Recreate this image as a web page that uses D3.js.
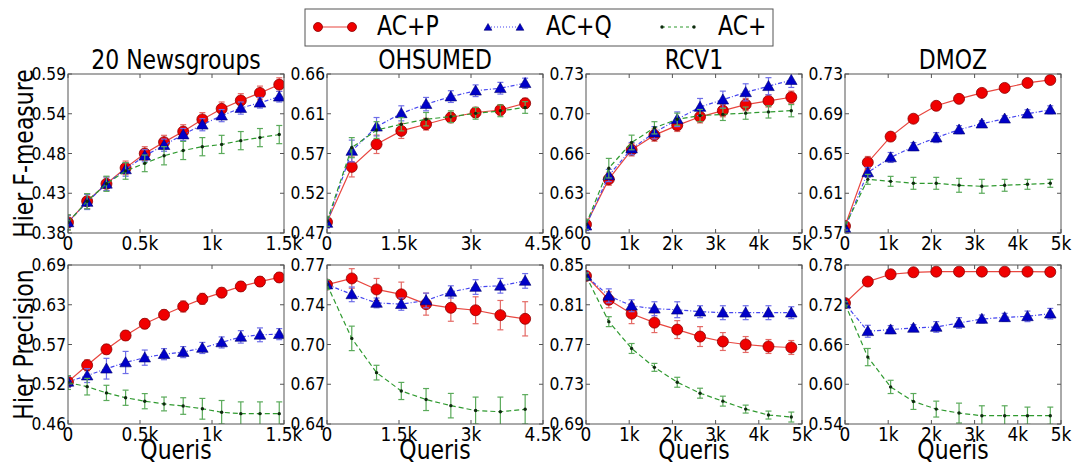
<!DOCTYPE html>
<html>
<head>
<meta charset="utf-8">
<script src="https://cdn.jsdelivr.net/npm/d3@7"></script>
<style>
  body { margin: 0; background: #fff; }
  text { font-family: "DejaVu Sans", sans-serif; fill: #000; }
</style>
</head>
<body>
<script>
const width = 1072;
const height = 466;

// series and panel names
const seriesNames = ["AC+P", "AC+Q", "AC+"];
const datasetNames = ["20 Newsgroups", "OHSUMED", "RCV1", "DMOZ"];
const rowLabels = ["Hier F-measure", "Hier Precision"];
const xLabel = "Queris";

// number of queries at each point
const queriesNews = [0, 133, 267, 400, 533, 667, 800, 933, 1067, 1200, 1333, 1467];
const queriesOhs = [0, 516, 1032, 1548, 2064, 2580, 3096, 3612, 4128];
const queriesRcv = [0, 528, 1056, 1584, 2112, 2640, 3168, 3696, 4224, 4752];
const queriesDmoz = [0, 528, 1056, 1584, 2112, 2640, 3168, 3696, 4224, 4752];

// x ticks
const xTicksNews = [0, 500, 1000, 1500];
const xLabelsNews = ["0", "0.5k", "1k", "1.5k"];
const xTicksOhs = [0, 1500, 3000, 4500];
const xLabelsOhs = ["0", "1.5k", "3k", "4.5k"];
const xTicksK = [0, 1000, 2000, 3000, 4000, 5000];
const xLabelsK = ["0", "1k", "2k", "3k", "4k", "5k"];

// y ticks (first and last are the axis limits)
const yTicksFNews = [0.38, 0.4325, 0.485, 0.5375, 0.59];
const yLabelsFNews = ["0.38", "0.43", "0.48", "0.54", "0.59"];
const yTicksFOhs = [0.47, 0.5175, 0.565, 0.6125, 0.66];
const yLabelsFOhs = ["0.47", "0.52", "0.57", "0.61", "0.66"];
const yTicksFRcv = [0.60, 0.6325, 0.665, 0.6975, 0.73];
const yLabelsFRcv = ["0.60", "0.63", "0.66", "0.70", "0.73"];
const yTicksFDmoz = [0.57, 0.61, 0.65, 0.69, 0.73];
const yLabelsFDmoz = ["0.57", "0.61", "0.65", "0.69", "0.73"];
const yTicksPNews = [0.46, 0.5175, 0.575, 0.6325, 0.69];
const yLabelsPNews = ["0.46", "0.52", "0.57", "0.63", "0.69"];
const yTicksPOhs = [0.64, 0.6725, 0.705, 0.7375, 0.77];
const yLabelsPOhs = ["0.64", "0.67", "0.70", "0.74", "0.77"];
const yTicksPRcv = [0.69, 0.73, 0.77, 0.81, 0.85];
const yLabelsPRcv = ["0.69", "0.73", "0.77", "0.81", "0.85"];
const yTicksPDmoz = [0.54, 0.60, 0.66, 0.72, 0.78];
const yLabelsPDmoz = ["0.54", "0.60", "0.66", "0.72", "0.78"];

// Hier F-measure
const fNewsP = [0.394, 0.422, 0.445, 0.466, 0.485, 0.500, 0.514, 0.530, 0.544, 0.555, 0.565, 0.576];
const fNewsQ = [0.394, 0.421, 0.445, 0.464, 0.482, 0.496, 0.510, 0.523, 0.535, 0.545, 0.552, 0.560];
const fNewsA = [0.394, 0.422, 0.445, 0.462, 0.472, 0.482, 0.489, 0.494, 0.497, 0.502, 0.506, 0.510];
const fNewsPe = [0.010, 0.010, 0.009, 0.009, 0.009, 0.009, 0.009, 0.009, 0.009, 0.009, 0.009, 0.009];
const fNewsQe = [0.009, 0.010, 0.009, 0.009, 0.008, 0.008, 0.008, 0.008, 0.008, 0.008, 0.007, 0.007];
const fNewsAe = [0.010, 0.010, 0.010, 0.011, 0.011, 0.012, 0.012, 0.012, 0.012, 0.012, 0.012, 0.012];

const fOhsP = [0.483, 0.549, 0.576, 0.592, 0.600, 0.608, 0.614, 0.617, 0.625];
const fOhsQ = [0.482, 0.568, 0.597, 0.613, 0.624, 0.633, 0.640, 0.643, 0.649];
const fOhsA = [0.484, 0.572, 0.593, 0.600, 0.606, 0.609, 0.613, 0.616, 0.620];
const fOhsPe = [0.006, 0.012, 0.011, 0.009, 0.007, 0.006, 0.006, 0.006, 0.006];
const fOhsQe = [0.006, 0.013, 0.011, 0.009, 0.008, 0.007, 0.007, 0.007, 0.006];
const fOhsAe = [0.006, 0.012, 0.010, 0.008, 0.008, 0.007, 0.007, 0.007, 0.007];

const fRcvP = [0.607, 0.644, 0.668, 0.680, 0.688, 0.695, 0.700, 0.705, 0.708, 0.711];
const fRcvQ = [0.606, 0.647, 0.669, 0.682, 0.693, 0.703, 0.709, 0.715, 0.720, 0.725];
const fRcvA = [0.607, 0.653, 0.674, 0.686, 0.693, 0.696, 0.697, 0.698, 0.699, 0.700];
const fRcvPe = [0.004, 0.005, 0.005, 0.005, 0.005, 0.005, 0.005, 0.005, 0.005, 0.005];
const fRcvQe = [0.004, 0.005, 0.005, 0.005, 0.006, 0.007, 0.007, 0.007, 0.007, 0.006];
const fRcvAe = [0.004, 0.008, 0.006, 0.005, 0.005, 0.005, 0.005, 0.005, 0.005, 0.005];

const fDmozP = [0.577, 0.641, 0.667, 0.685, 0.698, 0.705, 0.711, 0.716, 0.721, 0.724];
const fDmozQ = [0.575, 0.631, 0.646, 0.657, 0.666, 0.674, 0.680, 0.685, 0.690, 0.694];
const fDmozA = [0.577, 0.624, 0.622, 0.620, 0.620, 0.618, 0.617, 0.618, 0.619, 0.620];
const fDmozPe = [0.004, 0.006, 0.004, 0.003, 0.003, 0.003, 0.003, 0.003, 0.003, 0.003];
const fDmozQe = [0.004, 0.005, 0.005, 0.004, 0.005, 0.004, 0.003, 0.003, 0.004, 0.004];
const fDmozAe = [0.004, 0.005, 0.005, 0.006, 0.006, 0.007, 0.007, 0.006, 0.005, 0.004];

// Hier Precision
const pNewsP = [0.521, 0.545, 0.568, 0.588, 0.605, 0.618, 0.630, 0.641, 0.650, 0.659, 0.666, 0.672];
const pNewsQ = [0.521, 0.530, 0.540, 0.549, 0.556, 0.561, 0.564, 0.570, 0.578, 0.586, 0.589, 0.590];
const pNewsA = [0.520, 0.514, 0.505, 0.498, 0.493, 0.489, 0.486, 0.482, 0.477, 0.475, 0.475, 0.475];
const pNewsPe = [0.006, 0.008, 0.007, 0.007, 0.007, 0.007, 0.008, 0.008, 0.007, 0.007, 0.007, 0.007];
const pNewsQe = [0.008, 0.010, 0.015, 0.016, 0.011, 0.008, 0.008, 0.008, 0.008, 0.009, 0.010, 0.008];
const pNewsAe = [0.010, 0.012, 0.011, 0.011, 0.011, 0.010, 0.012, 0.015, 0.017, 0.017, 0.017, 0.017];

const pOhsP = [0.754, 0.759, 0.750, 0.746, 0.738, 0.735, 0.733, 0.729, 0.726];
const pOhsQ = [0.754, 0.746, 0.739, 0.738, 0.741, 0.748, 0.752, 0.753, 0.757];
const pOhsA = [0.754, 0.710, 0.682, 0.667, 0.660, 0.655, 0.651, 0.650, 0.652];
const pOhsPe = [0.003, 0.008, 0.009, 0.010, 0.009, 0.011, 0.011, 0.012, 0.014];
const pOhsQe = [0.004, 0.006, 0.004, 0.005, 0.006, 0.005, 0.006, 0.006, 0.006];
const pOhsAe = [0.004, 0.010, 0.006, 0.007, 0.009, 0.010, 0.011, 0.012, 0.012];

const pRcvP = [0.839, 0.815, 0.801, 0.792, 0.785, 0.778, 0.773, 0.770, 0.768, 0.767];
const pRcvQ = [0.839, 0.819, 0.809, 0.806, 0.805, 0.803, 0.802, 0.802, 0.802, 0.802];
const pRcvA = [0.839, 0.793, 0.766, 0.747, 0.732, 0.721, 0.713, 0.705, 0.699, 0.697];
const pRcvPe = [0.003, 0.008, 0.010, 0.010, 0.009, 0.010, 0.009, 0.008, 0.007, 0.007];
const pRcvQe = [0.003, 0.007, 0.006, 0.007, 0.008, 0.006, 0.007, 0.007, 0.007, 0.006];
const pRcvAe = [0.003, 0.005, 0.005, 0.004, 0.005, 0.005, 0.005, 0.004, 0.004, 0.005];

const pDmozP = [0.7225, 0.755, 0.766, 0.769, 0.770, 0.770, 0.770, 0.770, 0.770, 0.7695];
const pDmozQ = [0.7215, 0.680, 0.6825, 0.685, 0.6865, 0.6925, 0.6985, 0.701, 0.7025, 0.7065];
const pDmozA = [0.7215, 0.641, 0.596, 0.574, 0.5625, 0.5565, 0.5525, 0.5525, 0.5525, 0.5525];
const pDmozPe = [0.003, 0.006, 0.006, 0.004, 0.004, 0.005, 0.004, 0.004, 0.004, 0.006];
const pDmozQe = [0.003, 0.009, 0.006, 0.005, 0.008, 0.008, 0.006, 0.006, 0.008, 0.008];
const pDmozAe = [0.003, 0.013, 0.010, 0.012, 0.012, 0.015, 0.015, 0.015, 0.013, 0.013];

// layout
const panelLeft = [68, 327, 586, 845];
const panelWidth = 216;
const rowTop = [74, 265];
const panelHeight = 159;
const stretch = 1.2;   // the fonts in the picture are a bit taller than normal

const styles = [
    { line: "#e8463f", dash: null, err: "#e46a66", marker: "circle", fill: "#f00000", stroke: "#8c0000" },
    { line: "#4646f0", dash: "4,2,1,2", err: "#6e6ee8", marker: "triangle", fill: "#0000c8", stroke: "#00006e" },
    { line: "#2f9a2f", dash: "5,3", err: "#5aaa5a", marker: "dot", fill: "#0e2a0e", stroke: "#0e2a0e" }
];

const panels = [
    { row: 0, col: 0, x: queriesNews, xt: xTicksNews, xl: xLabelsNews, yt: yTicksFNews, yl: yLabelsFNews, s: [fNewsP, fNewsQ, fNewsA], e: [fNewsPe, fNewsQe, fNewsAe] },
    { row: 0, col: 1, x: queriesOhs, xt: xTicksOhs, xl: xLabelsOhs, yt: yTicksFOhs, yl: yLabelsFOhs, s: [fOhsP, fOhsQ, fOhsA], e: [fOhsPe, fOhsQe, fOhsAe] },
    { row: 0, col: 2, x: queriesRcv, xt: xTicksK, xl: xLabelsK, yt: yTicksFRcv, yl: yLabelsFRcv, s: [fRcvP, fRcvQ, fRcvA], e: [fRcvPe, fRcvQe, fRcvAe] },
    { row: 0, col: 3, x: queriesDmoz, xt: xTicksK, xl: xLabelsK, yt: yTicksFDmoz, yl: yLabelsFDmoz, s: [fDmozP, fDmozQ, fDmozA], e: [fDmozPe, fDmozQe, fDmozAe] },
    { row: 1, col: 0, x: queriesNews, xt: xTicksNews, xl: xLabelsNews, yt: yTicksPNews, yl: yLabelsPNews, s: [pNewsP, pNewsQ, pNewsA], e: [pNewsPe, pNewsQe, pNewsAe] },
    { row: 1, col: 1, x: queriesOhs, xt: xTicksOhs, xl: xLabelsOhs, yt: yTicksPOhs, yl: yLabelsPOhs, s: [pOhsP, pOhsQ, pOhsA], e: [pOhsPe, pOhsQe, pOhsAe] },
    { row: 1, col: 2, x: queriesRcv, xt: xTicksK, xl: xLabelsK, yt: yTicksPRcv, yl: yLabelsPRcv, s: [pRcvP, pRcvQ, pRcvA], e: [pRcvPe, pRcvQe, pRcvAe] },
    { row: 1, col: 3, x: queriesDmoz, xt: xTicksK, xl: xLabelsK, yt: yTicksPDmoz, yl: yLabelsPDmoz, s: [pDmozP, pDmozQ, pDmozA], e: [pDmozPe, pDmozQe, pDmozAe] }
];

let svg = d3.select("body")
    .append("svg")
    .attr("width", width)
    .attr("height", height);

function addText(g, txt, x, y, size, anchor, rotate, k) {
    return g.append("text")
        .attr("transform", `translate(${x},${y})${rotate ? " rotate(-90)" : ""} scale(1,${k || stretch})`)
        .attr("font-size", size)
        .attr("text-anchor", anchor)
        .text(txt);
}

function drawMarker(g, type, st, x, y, small) {
    if (type === "circle") {
        g.append("circle").attr("cx", x).attr("cy", y).attr("r", small ? 4.5 : 5.5)
            .attr("fill", st.fill).attr("stroke", st.stroke).attr("stroke-width", 0.8);
    } else if (type === "triangle") {
        g.append("path")
            .attr("d", d3.symbol(d3.symbolTriangle, small ? 26 : 58)())
            .attr("transform", `translate(${x},${y + 1})`)
            .attr("fill", st.fill).attr("stroke", st.stroke).attr("stroke-width", 0.6);
    } else {
        g.append("circle").attr("cx", x).attr("cy", y).attr("r", 1.7).attr("fill", st.fill);
    }
}

panels.forEach((p, pi) => {
    let x0 = panelLeft[p.col];
    let y0 = rowTop[p.row];
    let g = svg.append("g").attr("transform", `translate(${x0},${y0})`);

    let xScale = d3.scaleLinear()
        .domain([p.xt[0], p.xt[p.xt.length - 1]])
        .range([0, panelWidth]);
    let yScale = d3.scaleLinear()
        .domain([p.yt[0], p.yt[p.yt.length - 1]])
        .range([panelHeight, 0]);

    g.append("clipPath").attr("id", "clip" + pi)
        .append("rect").attr("width", panelWidth).attr("height", panelHeight);

    let plot = g.append("g").attr("clip-path", `url(#clip${pi})`);

    p.s.forEach((vals, si) => {
        let st = styles[si];
        let errs = p.e[si];
        let pts = vals.map((v, i) => ({ x: p.x[i], y: v, e: errs[i] }));

        // error bars
        let eg = plot.append("g").attr("stroke", st.err).attr("stroke-width", 1.2);
        pts.forEach(d => {
            let cx = xScale(d.x);
            let top = yScale(d.y + d.e);
            let bot = yScale(d.y - d.e);
            eg.append("line").attr("x1", cx).attr("x2", cx).attr("y1", top).attr("y2", bot);
            eg.append("line").attr("x1", cx - 3).attr("x2", cx + 3).attr("y1", top).attr("y2", top);
            eg.append("line").attr("x1", cx - 3).attr("x2", cx + 3).attr("y1", bot).attr("y2", bot);
        });

        let line = d3.line().x(d => xScale(d.x)).y(d => yScale(d.y));
        plot.append("path")
            .datum(pts)
            .attr("d", line)
            .attr("fill", "none")
            .attr("stroke", st.line)
            .attr("stroke-width", 1.2)
            .attr("stroke-dasharray", st.dash);

        pts.forEach(d => drawMarker(plot, st.marker, st, xScale(d.x), yScale(d.y)));
    });

    // frame and inward ticks on all sides
    g.append("rect")
        .attr("width", panelWidth).attr("height", panelHeight)
        .attr("fill", "none").attr("stroke", "#555").attr("stroke-width", 1);

    let tg = g.append("g").attr("stroke", "#555").attr("stroke-width", 1);
    p.xt.forEach(t => {
        let tx = xScale(t);
        tg.append("line").attr("x1", tx).attr("x2", tx).attr("y1", panelHeight).attr("y2", panelHeight - 4);
        tg.append("line").attr("x1", tx).attr("x2", tx).attr("y1", 0).attr("y2", 4);
    });
    p.yt.forEach(t => {
        let ty = yScale(t);
        tg.append("line").attr("x1", 0).attr("x2", 4).attr("y1", ty).attr("y2", ty);
        tg.append("line").attr("x1", panelWidth).attr("x2", panelWidth - 4).attr("y1", ty).attr("y2", ty);
    });

    // tick labels
    p.xt.forEach((t, i) => addText(g, p.xl[i], xScale(t), panelHeight + 17, 17, "middle", false, 1.12));
    p.yt.forEach((t, i) => addText(g, p.yl[i], -2, yScale(t) + 6, 15.5, "end", false, 1.12));

    if (p.row === 0) {
        addText(g, datasetNames[p.col], panelWidth / 2, -5, 22, "middle");
    } else {
        addText(g, xLabel, panelWidth / 2, panelHeight + 35, 22, "middle");
    }
    if (p.col === 0) {
        addText(g, rowLabels[p.row], -35, panelHeight / 2, 22, "middle", true);
    }
});

// legend
let legend = svg.append("g");
legend.append("rect")
    .attr("x", 305).attr("y", 9).attr("width", 468).attr("height", 37)
    .attr("fill", "#fff").attr("stroke", "#555").attr("stroke-width", 1);

const legendLineX = [318, 488, 662];
const legendTextX = [377, 546, 718];
seriesNames.forEach((name, si) => {
    let st = styles[si];
    let lx = legendLineX[si];
    let lw = si === 0 ? 34 : 32;
    legend.append("line")
        .attr("x1", lx).attr("x2", lx + lw).attr("y1", 27).attr("y2", 27)
        .attr("stroke", st.line).attr("stroke-width", 1.2)
        .attr("stroke-dasharray", si === 1 ? "1,2" : st.dash ? "3,3" : null);
    drawMarker(legend, st.marker, st, lx, 27, true);
    drawMarker(legend, st.marker, st, lx + lw, 27, true);
    addText(legend, name, legendTextX[si], 35, 22, "start");
});
</script>
</body>
</html>
